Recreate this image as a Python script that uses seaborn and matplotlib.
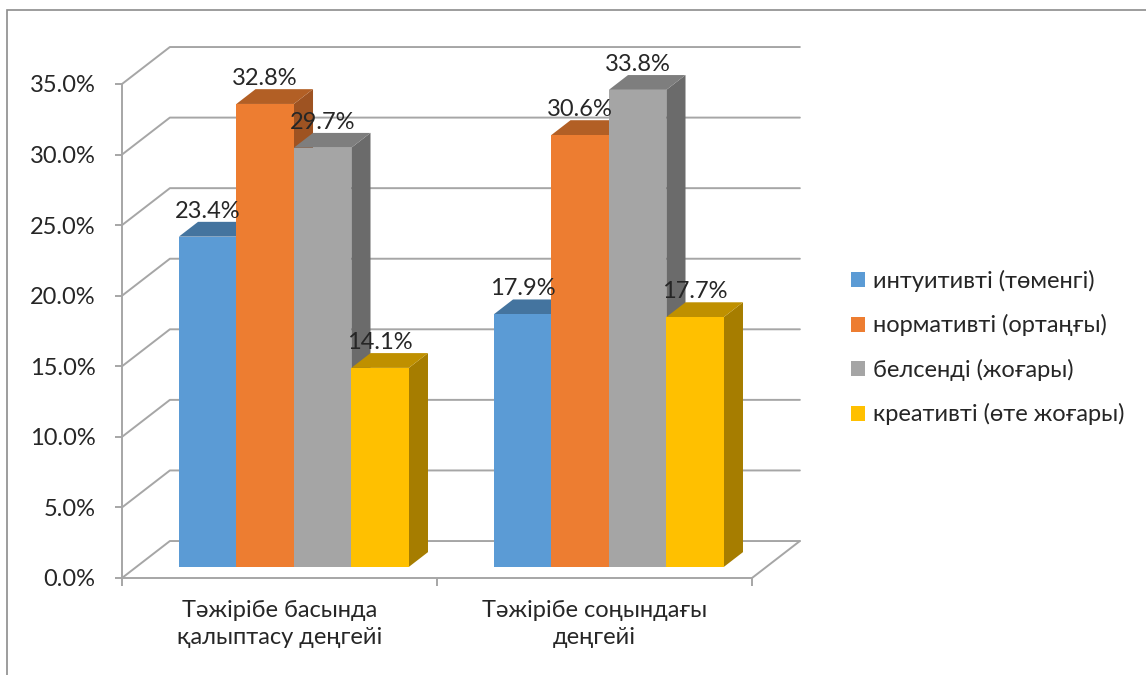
import matplotlib
matplotlib.use("Agg")
import matplotlib.pyplot as plt
import numpy as np
import pandas as pd
import seaborn as sns
from matplotlib.patches import Polygon, Patch, Rectangle
from matplotlib.transforms import Affine2D

# ---- data -------------------------------------------------------------
stages = ["Тәжірібе басында\nқалыптасу деңгейі", "Тәжірібе соңындағы\nдеңгейі"]
levels = ["интуитивті (төменгі)", "нормативті (ортаңғы)",
          "белсенді (жоғары)", "креативті (өте жоғары)"]
start_values = [23.4, 32.8, 29.7, 14.1]
end_values = [17.9, 30.6, 33.8, 17.7]

front_colors = ["#5B9BD5", "#ED7D31", "#A5A5A5", "#FFC000"]
top_colors = ["#44749F", "#B25F25", "#7E7E7E", "#BF9000"]
side_colors = ["#3E6C96", "#9E5322", "#6B6B6B", "#A67D00"]

df = pd.DataFrame({
    "stage": [stages[0]] * 4 + [stages[1]] * 4,
    "level": levels * 2,
    "value": start_values + end_values,
})

# pseudo-3d geometry (in data units)
WALL_DX, WALL_DY = 0.152, 2.62     # depth of floor / back wall
BAR_FRONT = 0.30                   # bar front face position within depth
BAR_DEPTH = 0.40                   # bar depth as fraction of wall depth
GRID = "#A6A6A6"

sns.set_style("white")
plt.rcParams["font.family"] = ["Lato", "Noto Sans", "DejaVu Sans"]
FS = 17

fig = plt.figure(figsize=(11.46, 6.75), dpi=100)
ax = fig.add_axes([122 / 1146, 97 / 675, 630 / 1146, 494 / 675])

sns.barplot(data=df, x="stage", y="value", hue="level", hue_order=levels,
            palette=front_colors, saturation=1, width=0.73, errorbar=None,
            legend=False, linewidth=0, ax=ax)

ax.set_xlim(-0.5, 1.5)
ax.set_ylim(0, 35)

# back wall gridlines + floor
for v in np.arange(0, 36, 5):
    ax.plot([-0.5, -0.5 + WALL_DX, 1.5 + WALL_DX], [v, v + WALL_DY, v + WALL_DY],
            color=GRID, lw=1.4, clip_on=False, zorder=0.5)
ax.plot([1.5, 1.5 + WALL_DX], [0, WALL_DY], color=GRID, lw=1.4,
        clip_on=False, zorder=0.5)

# turn flat bars into boxes
bx, by = BAR_FRONT * WALL_DX, BAR_FRONT * WALL_DY
ddx, ddy = BAR_DEPTH * WALL_DX, BAR_DEPTH * WALL_DY
hue_of = {}
for i, lvl in enumerate(levels):
    for j in range(len(stages)):
        hue_of[id(ax.patches[i * len(stages) + j])] = i
bars = sorted(ax.patches, key=lambda p: p.get_x())
shift = Affine2D().translate(bx, by) + ax.transData
for k, p in enumerate(bars):
    c = hue_of[id(p)]
    z = 2 + k * 0.1
    x0 = p.get_x() + bx
    x1 = x0 + p.get_width()
    y0 = p.get_y() + by
    y1 = y0 + p.get_height()
    p.set_transform(shift)
    p.set_zorder(z + 0.02)
    p.set_clip_on(False)
    side = Polygon([(x1, y0), (x1, y1), (x1 + ddx, y1 + ddy), (x1 + ddx, y0 + ddy)],
                   closed=True, facecolor=side_colors[c], edgecolor="none",
                   zorder=z, clip_on=False)
    top = Polygon([(x0, y1), (x1, y1), (x1 + ddx, y1 + ddy), (x0 + ddx, y1 + ddy)],
                  closed=True, facecolor=top_colors[c], edgecolor="none",
                  zorder=z + 0.01, clip_on=False)
    ax.add_patch(side)
    ax.add_patch(top)
    ax.annotate(f"{p.get_height():.1f}%", ((x0 + x1) / 2, y1 + ddy),
                xytext=(0, 0), textcoords="offset points", ha="center",
                va="bottom", fontsize=FS, zorder=10, annotation_clip=False)

# axes styling
for s in ["top", "right"]:
    ax.spines[s].set_visible(False)
for s in ["left", "bottom"]:
    ax.spines[s].set_color(GRID)
    ax.spines[s].set_linewidth(1.4)
    ax.spines[s].set_zorder(0.6)

ax.set_yticks(np.arange(0, 36, 5))
ax.set_yticklabels([f"{v:.1f}%" for v in np.arange(0, 36, 5)], fontsize=FS)
ax.tick_params(axis="y", length=5, width=1.4, color=GRID, pad=14, left=True)

ax.set_xticks([0, 1])
ax.set_xticklabels(stages, fontsize=FS, linespacing=1.35)
ax.set_xticks([-0.5, 0.5, 1.5], minor=True)
ax.tick_params(axis="x", which="major", length=0, pad=16)
ax.tick_params(axis="x", which="minor", length=6, width=1.4, color=GRID,
               bottom=True)
ax.set_xlabel("")
ax.set_ylabel("")

handles = [Patch(facecolor=col, edgecolor="none") for col in front_colors]
fig.legend(handles, levels, loc="center left", bbox_to_anchor=(851 / 1146, 0.485),
           frameon=False, fontsize=FS, handlelength=0.6, handleheight=0.6,
           handletextpad=0.35, labelspacing=0.95, borderpad=0, borderaxespad=0)

# outer chart border
fig.add_artist(Rectangle((7 / 1146, -0.05), 1.1, 0.9852 + 0.05,
                         transform=fig.transFigure, fill=False,
                         edgecolor="#8C8C8C", lw=1.2))

fig.savefig("out.png", dpi=100)
